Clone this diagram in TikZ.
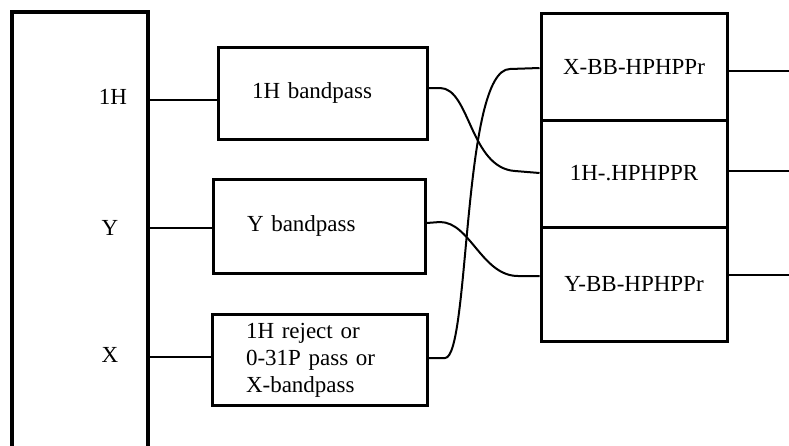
\documentclass[tikz,border=0pt]{standalone}
\usepackage{fontspec}
\setmainfont{Liberation Serif}
\begin{document}
\begin{tikzpicture}[x=1pt,y=-1pt,
  every node/.style={font=\fontsize{23}{27}\selectfont},
  filt/.style={draw,line width=3pt,minimum width=209pt,minimum height=92pt,
    text width=141pt,align=left,inner xsep=34pt,inner ysep=0pt},
  stk/.style={draw,line width=3pt,minimum width=186pt,minimum height=107pt,inner sep=0pt},
  conn/.style={line width=2.5pt},
  wire/.style={line width=2pt}]
\useasboundingbox (0,0) rectangle (789,445);
% big source box (open at bottom)
\draw[line width=3.5pt] (12,460) -- (12,12) -- (148,12) -- (148,460);
\node (l1H) at (113,97) {1H};
\node (lY) at (110,228) {Y};
\node (lX) at (110,355) {X};
\coordinate (s1H) at (148,100);
\coordinate (sY) at (148,228);
\coordinate (sX) at (148,357);
% filter boxes
\node[filt] (f1H) at (322.5,93) {1H bandpass};
\node[filt,minimum width=212pt,minimum height=94pt,text width=144pt] (fY) at (319,226) {Y bandpass};
\node[filt,minimum width=215pt,minimum height=91pt,text width=147pt] (fX) at (319.5,360) {1H reject or\\0-31P pass or\\X-bandpass};
% stacked right boxes
\node[stk] (rX) at (634,66.5) {X-BB-HPHPPr};
\node[stk] (rH) at (634,173.5) {1H-.HPHPPR};
\node[stk,minimum height=114pt] (rY) at (634,284) {Y-BB-HPHPPr};
% left connectors
\draw[conn] (s1H) -- (f1H.west |- s1H);
\draw[wire] (sY) -- (fY.west |- sY);
\draw[conn] (sX) -- (fX.west |- sX);
% crossing curves
\draw[wire] (f1H.east |- 0,88) -- (440,88) .. controls (470,88) and (470,168) .. (515,171) -- (rH.west |- 0,173);
\draw[wire] (fY.east |- 0,223) -- (440,222) .. controls (470,222) and (482,276) .. (518,276) -- (rY.west |- 0,276);
\draw[wire] (fX.east |- 0,358) -- (445,358) .. controls (470,358) and (462,69) .. (510,69) -- (rX.west |- 0,68);
% outputs
\coordinate (oX) at (789,71);
\coordinate (oH) at (789,171);
\coordinate (oY) at (789,275);
\draw[conn] (rX.east |- oX) -- (oX);
\draw[conn] (rH.east |- oH) -- (oH);
\draw[conn] (rY.east |- oY) -- (oY);
\end{tikzpicture}
\end{document}
